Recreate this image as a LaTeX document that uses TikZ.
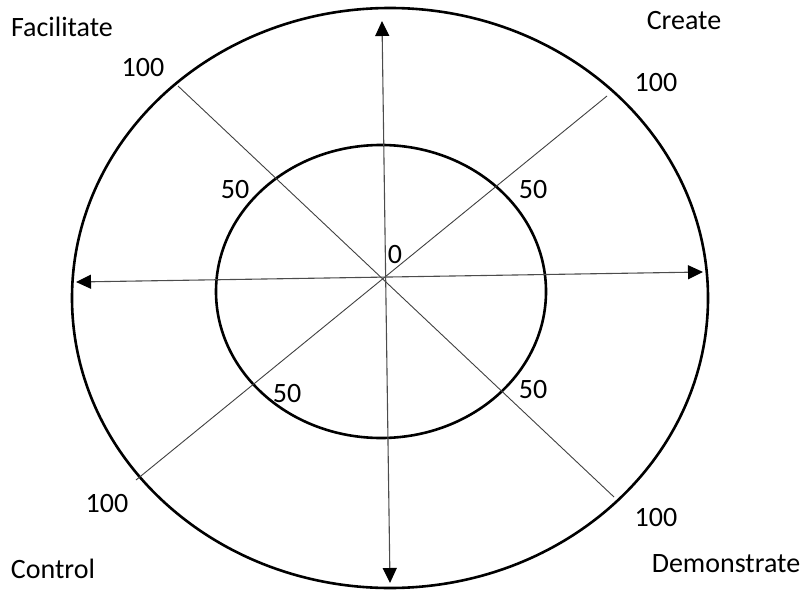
\documentclass[tikz,border=0pt]{standalone}
\usepackage{fontspec}
\setmainfont{Carlito}
\usetikzlibrary{arrows.meta}
\begin{document}
\begin{tikzpicture}[x=1pt,y=-1pt,
  ring/.style={line width=2.6pt,black},
  spoke/.style={line width=0.9pt,black!75},
  tip/.style={Triangle[length=15pt,width=14pt,fill=black,color=black]},
  axisarrow/.style={line width=1.1pt,black!70,{Triangle[length=15pt,width=14pt,color=black]}-{Triangle[length=15pt,width=14pt,color=black]}},
  lbl/.style={font=\fontsize{28}{32}\selectfont,inner sep=0pt,text=black}]
\useasboundingbox (0,0) rectangle (802,591);
% rings
\draw[ring] (390,298) ellipse [x radius=318, y radius=290];
\draw[ring] (381,291.5) ellipse [x radius=165, y radius=146.5];
% spoke end points
\coordinate (nw) at (178,86);
\coordinate (se) at (614,497);
\coordinate (ne) at (607,96);
\coordinate (sw) at (136,480);
\coordinate (wtip) at (76,282);
\coordinate (etip) at (703,272);
\coordinate (ntip) at (382,21);
\coordinate (stip) at (390,583);
% spokes
\draw[spoke] (nw) -- (se);
\draw[spoke] (ne) -- (sw);
\draw[axisarrow] (wtip) -- (etip);
\draw[axisarrow] (ntip) -- (stip);
% labels
\node[lbl] (fac) at (62,27) {Facilitate};
\node[lbl] (cre) at (684,21) {Create};
\node[lbl] (con) at (53,569) {Control};
\node[lbl] (dem) at (726,564) {Demonstrate};
\node[lbl] (h1) at (143,68) {100};
\node[lbl] (h2) at (656,83) {100};
\node[lbl] (h3) at (107,504) {100};
\node[lbl] (h4) at (656,518) {100};
\node[lbl] (f1) at (235,190) {50};
\node[lbl] (f2) at (533,190) {50};
\node[lbl] (f3) at (287,394) {50};
\node[lbl] (f4) at (533,390) {50};
\node[lbl] (z) at (395,255) {0};
\end{tikzpicture}
\end{document}
